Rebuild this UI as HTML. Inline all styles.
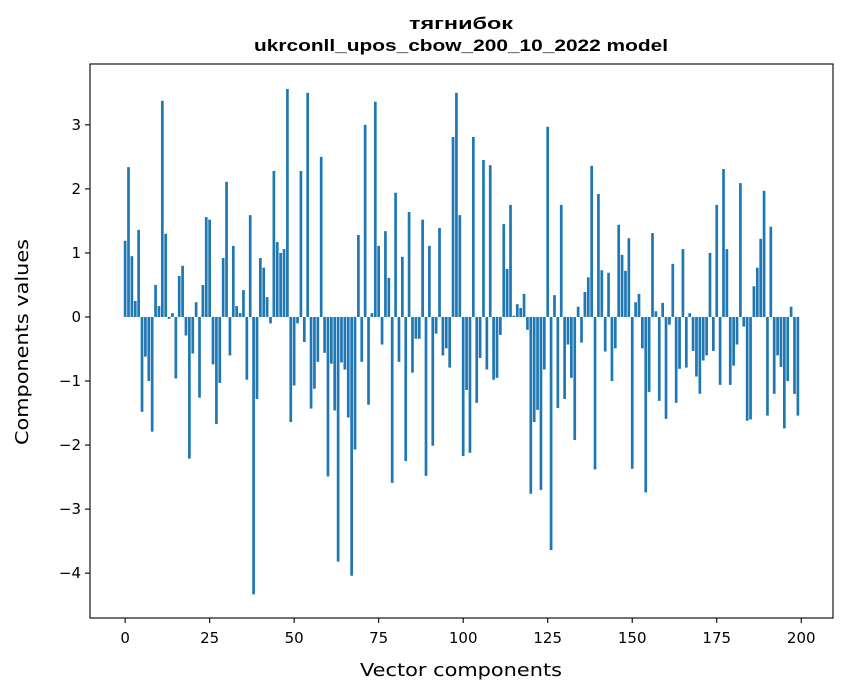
<!DOCTYPE html>
<html><head><meta charset="utf-8">
<style>
html,body{margin:0;padding:0;background:#fff;}
svg{display:block;font-family:"DejaVu Sans","Liberation Sans",sans-serif;}
</style></head>
<body>
<svg id="chart" width="847" height="696" xmlns="http://www.w3.org/2000/svg">
<text x="461" y="29" text-anchor="middle" font-family="Liberation Sans, sans-serif" font-weight="bold" font-size="17" textLength="104" lengthAdjust="spacingAndGlyphs">тягнибок</text>
<text x="461" y="51" text-anchor="middle" font-family="Liberation Sans, sans-serif" font-weight="bold" font-size="17" textLength="414" lengthAdjust="spacingAndGlyphs">ukrconll_upos_cbow_200_10_2022 model</text>
<g id="bars"></g>
<g id="axes"></g>
<rect x="90" y="64" width="743" height="554" fill="none" stroke="#000" stroke-width="1.1"/>
<text x="461" y="676" text-anchor="middle" font-size="18" textLength="202" lengthAdjust="spacingAndGlyphs">Vector components</text>
<text transform="translate(28,342) rotate(-90)" text-anchor="middle" font-size="18" textLength="206" lengthAdjust="spacingAndGlyphs">Components values</text>
</svg>
<script>
const values = [1.19,2.34,0.95,0.25,1.36,-1.48,-0.62,-1.0,-1.79,0.5,0.17,3.375,1.3,-0.03,0.06,-0.96,0.64,0.8,-0.29,-2.21,-0.57,0.23,-1.26,0.5,1.56,1.52,-0.74,-1.67,-1.03,0.92,2.11,-0.6,1.11,0.17,0.06,0.42,-0.98,1.59,-4.33,-1.28,0.92,0.77,0.31,-0.1,2.28,1.17,1.0,1.06,3.56,-1.64,-1.07,-0.1,2.28,-0.39,3.5,-1.43,-1.12,-0.7,2.5,-0.56,-2.49,-0.73,-1.46,-3.82,-0.71,-0.82,-1.57,-4.04,-2.07,1.28,-0.7,3.0,-1.37,0.06,3.36,1.11,-0.43,1.34,0.61,-2.59,1.94,-0.7,0.94,-2.25,1.64,-0.87,-0.34,-0.34,1.52,-2.48,1.11,-2.01,-0.26,1.39,-0.6,-0.49,-0.79,2.81,3.5,1.59,-2.17,-1.14,-2.12,2.81,-1.34,-0.64,2.45,-0.82,2.37,-0.98,-0.95,-0.28,1.45,0.75,1.75,0.02,0.2,0.14,0.36,-0.2,-2.76,-1.64,-1.45,-2.7,-0.82,2.97,-3.64,0.34,-1.42,1.75,-1.28,-0.43,-0.95,-1.92,0.16,-0.4,0.39,0.62,2.36,-2.38,1.92,0.73,-0.54,0.69,-1.0,-0.49,1.44,0.97,0.72,1.23,-2.37,0.23,0.36,-0.49,-2.74,-1.17,1.31,0.09,-1.31,0.22,-1.59,-0.12,0.83,-1.34,-0.81,1.06,-0.79,0.06,-0.53,-0.93,-1.2,-0.68,-0.6,1.0,-0.53,1.75,-1.06,2.31,1.06,-1.06,-0.76,-0.43,2.09,-0.15,-1.62,-1.6,0.48,0.77,1.22,1.97,-1.54,1.41,-1.2,-0.6,-0.78,-1.74,-1.0,0.16,-1.2,-1.54];
const xTicks = [0,25,50,75,100,125,150,175,200];
const yTicks = [-4,-3,-2,-1,0,1,2,3];
const yTickLabels = ["\u22124","\u22123","\u22122","\u22121","0","1","2","3"];

const L=90,R=833,T=64,B=618;
const xmin=-10.39,xmax=209.39,ymin=-4.70,ymax=3.95;
const xs=v=>L+(v-xmin)/(xmax-xmin)*(R-L);
const ys=v=>T+(ymax-v)/(ymax-ymin)*(B-T);
const NS="http://www.w3.org/2000/svg";
const bars=document.getElementById('bars');
values.forEach((v,i)=>{
  const r=document.createElementNS(NS,'rect');
  const x0=xs(i-0.4),x1=xs(i+0.4);
  const y0=ys(Math.max(v,0)),y1=ys(Math.min(v,0));
  r.setAttribute('x',x0);r.setAttribute('width',x1-x0);
  r.setAttribute('y',y0);r.setAttribute('height',Math.max(y1-y0,0.3));
  r.setAttribute('fill','#1f77b4');
  
  
  bars.appendChild(r);
});
const axes=document.getElementById('axes');
xTicks.forEach(t=>{
  const x=xs(t);
  const l=document.createElementNS(NS,'line');
  l.setAttribute('x1',x);l.setAttribute('x2',x);l.setAttribute('y1',B);l.setAttribute('y2',B+5);
  l.setAttribute('stroke','#000');l.setAttribute('stroke-width','1.1');
  
  
  axes.appendChild(l);
  const tx=document.createElementNS(NS,'text');
  tx.setAttribute('x',x);tx.setAttribute('y',B+25);tx.setAttribute('text-anchor','middle');tx.setAttribute('font-size','15');
  tx.textContent=String(t);
  
  
  axes.appendChild(tx);
});
yTicks.forEach((t,i)=>{
  const y=ys(t);
  const l=document.createElementNS(NS,'line');
  l.setAttribute('x1',L-5);l.setAttribute('x2',L);l.setAttribute('y1',y);l.setAttribute('y2',y);
  l.setAttribute('stroke','#000');l.setAttribute('stroke-width','1.1');
  
  
  axes.appendChild(l);
  const tx=document.createElementNS(NS,'text');
  tx.setAttribute('x',L-9);tx.setAttribute('y',y+5);tx.setAttribute('text-anchor','end');tx.setAttribute('font-size','15');
  tx.textContent=yTickLabels[i];
  
  
  axes.appendChild(tx);
});
</script>
</body></html>
